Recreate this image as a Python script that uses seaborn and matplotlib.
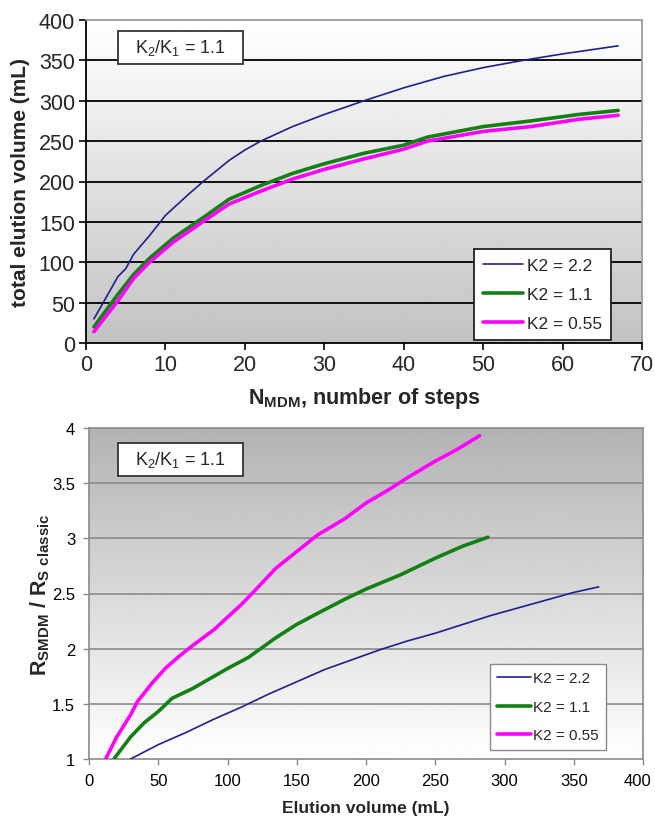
import numpy as np
import pandas as pd
import matplotlib
matplotlib.use("Agg")
import matplotlib.pyplot as plt
from matplotlib.patches import Rectangle
from matplotlib.transforms import ScaledTranslation
import seaborn as sns

# ---- data ----
labels = ["K2 = 2.2", "K2 = 1.1", "K2 = 0.55"]
colors = ["#1f1f8f", "#138013", "#ff00ff"]
widths = [1.2, 2.6, 2.6]

# top: total elution volume vs number of steps
steps_22 = [1, 2, 4, 5, 6, 8, 10, 13, 15, 18, 20, 22, 26, 30, 35, 40, 45, 50, 55, 60, 67]
vol_22 = [30, 47, 82, 92, 110, 133, 158, 185, 202, 226, 239, 250, 268, 283, 300, 316, 330, 341, 350, 358, 368]
steps_11 = [1, 4, 6, 8, 11, 15, 18, 22, 26, 30, 35, 40, 43, 50, 56, 62, 67]
vol_11 = [20, 60, 85, 105, 130, 157, 178, 195, 210, 222, 235, 245, 255, 268, 275, 283, 288]
steps_055 = [1, 4, 6, 8, 11, 15, 18, 22, 26, 30, 35, 40, 43, 50, 56, 62, 67]
vol_055 = [14, 52, 80, 100, 125, 152, 172, 188, 203, 215, 228, 240, 250, 262, 268, 277, 282]

# bottom: resolution ratio vs elution volume
elu_22 = [30, 50, 70, 90, 110, 130, 150, 170, 190, 210, 230, 250, 270, 290, 310, 330, 350, 368]
rs_22 = [1.0, 1.13, 1.24, 1.36, 1.47, 1.59, 1.70, 1.81, 1.90, 1.99, 2.07, 2.14, 2.22, 2.30, 2.37, 2.44, 2.51, 2.56]
elu_11 = [18, 30, 40, 50, 60, 75, 100, 115, 125, 135, 150, 165, 185, 200, 225, 250, 270, 288]
rs_11 = [1.0, 1.2, 1.33, 1.43, 1.55, 1.64, 1.82, 1.92, 2.01, 2.10, 2.22, 2.32, 2.45, 2.54, 2.67, 2.82, 2.93, 3.01]
elu_055 = [12, 20, 30, 35, 45, 55, 65, 75, 90, 110, 120, 135, 150, 165, 185, 200, 215, 230, 250, 265, 282]
rs_055 = [1.0, 1.2, 1.4, 1.52, 1.68, 1.82, 1.93, 2.03, 2.17, 2.40, 2.53, 2.73, 2.88, 3.03, 3.18, 3.32, 3.43, 3.55, 3.70, 3.80, 3.93]

top_df = pd.concat([
    pd.DataFrame({"x": steps_22, "y": vol_22, "series": labels[0]}),
    pd.DataFrame({"x": steps_11, "y": vol_11, "series": labels[1]}),
    pd.DataFrame({"x": steps_055, "y": vol_055, "series": labels[2]}),
])
bot_df = pd.concat([
    pd.DataFrame({"x": elu_22, "y": rs_22, "series": labels[0]}),
    pd.DataFrame({"x": elu_11, "y": rs_11, "series": labels[1]}),
    pd.DataFrame({"x": elu_055, "y": rs_055, "series": labels[2]}),
])

sns.set_theme(style="white")
plt.rcParams["font.family"] = ["Liberation Sans", "DejaVu Sans"]
plt.rcParams["mathtext.fontset"] = "custom"
plt.rcParams["mathtext.rm"] = "Liberation Sans"
plt.rcParams["mathtext.bf"] = "Liberation Sans:bold"

fig = plt.figure(figsize=(6.55, 8.2), dpi=100)
W, H = 655, 820
ax1 = fig.add_axes([86 / W, 1 - 344 / H, (642 - 86) / W, (344 - 21) / H])
ax2 = fig.add_axes([89 / W, 1 - 760 / H, (643 - 89) / W, (760 - 429) / H])


def gradient(ax, top_grey, bottom_grey):
    g = np.linspace(top_grey, bottom_grey, 256).reshape(-1, 1)
    ax.imshow(g, cmap="gray", vmin=0, vmax=1, aspect="auto",
              extent=[0, 1, 0, 1], transform=ax.transAxes, zorder=0)


def draw(ax, df):
    for lab, col, lw in zip(labels, colors, widths):
        sub = df[df["series"] == lab]
        sns.lineplot(data=sub, x="x", y="y", ax=ax, color=col, lw=lw,
                     label=lab, sort=False, estimator=None, zorder=3)


def ratio_box(ax, x0, x1, y0, y1):
    ax.add_patch(Rectangle((x0, y0), x1 - x0, y1 - y0, transform=ax.transAxes,
                           fc="white", ec="#333333", lw=1.3, zorder=5))
    ax.text((x0 + x1) / 2, (y0 + y1) / 2, r"K$_2$/K$_1$ = 1.1", transform=ax.transAxes,
            fontsize=13, va="center", ha="center", zorder=6)


# ---------- top panel ----------
gradient(ax1, 1.0, 0.76)
draw(ax1, top_df)
ax1.set_xlim(0, 70)
ax1.set_ylim(0, 400)
ax1.set_xticks(range(0, 71, 10))
ax1.set_yticks(range(0, 401, 50))
for y in range(50, 400, 50):
    ax1.axhline(y, color="black", lw=1.3, zorder=1)
for s in ["top", "right"]:
    ax1.spines[s].set_color("#999999")
for s in ["left", "bottom"]:
    ax1.spines[s].set_color("black")
    ax1.spines[s].set_linewidth(1.3)
ax1.tick_params(axis="both", direction="out", length=5, width=1.2, color="black",
                labelsize=15.5, pad=3, bottom=True, left=True)
ax1.set_xlabel(r"$\mathbf{N}_{\mathbf{MDM}}$, number of steps", fontsize=15.5,
               fontweight="bold", labelpad=7)
ax1.set_ylabel("total elution volume (mL)", fontsize=15, fontweight="bold", labelpad=6)
ratio_box(ax1, 0.0576, 0.2824, 0.8638, 0.966)
leg = ax1.legend(loc="lower right", bbox_to_anchor=(0.944, 0.01), borderaxespad=0,
                 frameon=True, fancybox=False, edgecolor="#222222",
                 framealpha=1, handlelength=2.3, handletextpad=0.25, labelspacing=0.8,
                 borderpad=0.5, prop={"size": 12.5})
leg.get_frame().set_linewidth(1.3)

# ---------- bottom panel ----------
gradient(ax2, 0.70, 1.0)
draw(ax2, bot_df)
ax2.set_xlim(0, 400)
ax2.set_ylim(1, 4)
ax2.set_xticks(range(0, 401, 50))
ax2.set_yticks([1, 1.5, 2, 2.5, 3, 3.5, 4])
ax2.set_yticklabels(["1", "1.5", "2", "2.5", "3", "3.5", "4"])
for y in [1.5, 2, 2.5, 3, 3.5]:
    ax2.axhline(y, color="#8a8a8a", lw=1.2, zorder=1)
for s in ax2.spines.values():
    s.set_color("#8a8a8a")
    s.set_linewidth(1.2)
ax2.tick_params(axis="both", direction="out", length=4, width=1.0, color="#8a8a8a",
                labelcolor="black", labelsize=12, pad=6, bottom=True, left=True)
# keep the last x label ("400") inside the figure edge
last = ax2.get_xticklabels()[-1]
last.set_transform(last.get_transform() + ScaledTranslation(-5 / 100, 0, fig.dpi_scale_trans))
ax2.set_xlabel("Elution volume (mL)", fontsize=12.5, fontweight="bold", labelpad=9)
ax2.set_ylabel(r"R$_{\mathbf{SMDM}}$ / R$_{\mathbf{S\ classic}}$", fontsize=15.5,
               fontweight="bold", labelpad=0)
ratio_box(ax2, 0.0523, 0.278, 0.855, 0.955)
leg2 = ax2.legend(loc="lower right", bbox_to_anchor=(0.933, 0.027), borderaxespad=0,
                  frameon=True, fancybox=False, edgecolor="#8a8a8a", framealpha=1,
                  handlelength=2.2, handletextpad=0.1, labelspacing=0.95, borderpad=0.5,
                  prop={"size": 11})
leg2.get_frame().set_linewidth(1.0)

fig.savefig("out.png", dpi=100)
